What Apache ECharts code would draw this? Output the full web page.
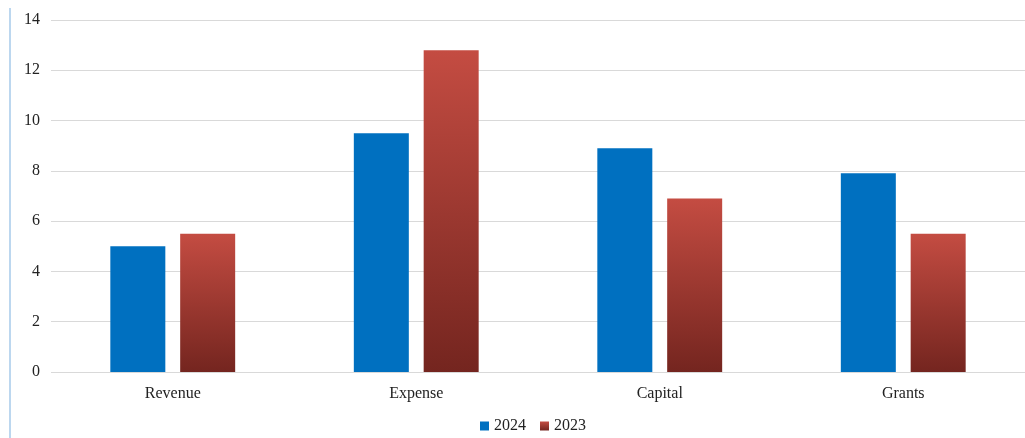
<!DOCTYPE html>
<html>
<head>
<meta charset="utf-8">
<script src="https://cdn.jsdelivr.net/npm/echarts@6/dist/echarts.min.js"></script>
<style>
  html, body { margin: 0; padding: 0; background: #fff; }
  #chart { width: 1025px; height: 438px; }
</style>
</head>
<body>
<div id="chart"></div>
<script>
// data
const categories = ['Revenue', 'Expense', 'Capital', 'Grants']
const values2024 = [5.0, 9.5, 8.9, 7.9]
const values2023 = [5.5, 12.8, 6.9, 5.5]

const font = 'Liberation Serif'
const chart = echarts.init(document.getElementById('chart'))

const option = {
  animation: false,
  textStyle: { fontFamily: font },
  graphic: [{
    type: 'rect',
    shape: { x: 9, y: 8, width: 2, height: 430 },
    style: { fill: '#bcd7ef' }
  }],
  legend: {
    top: 413,
    left: 475,
    icon: 'rect',
    itemWidth: 9,
    itemHeight: 9,
    itemGap: 14,
    textStyle: { fontFamily: font, fontSize: 16, color: '#222' },
    data: ['2024', '2023']
  },
  grid: {
    left: 51,
    top: 20,
    width: 978,
    bottom: 66
  },
  xAxis: {
    type: 'category',
    data: categories,
    axisLine: { show: false },
    axisTick: { show: false },
    axisLabel: { fontFamily: font, fontSize: 16, color: '#222', margin: 14 }
  },
  yAxis: {
    type: 'value',
    min: 0,
    max: 14,
    interval: 2,
    axisLine: { show: false },
    axisTick: { show: false },
    axisLabel: { fontFamily: font, fontSize: 16, color: '#222', margin: 11 },
    splitLine: { lineStyle: { color: '#d9d9d9', width: 1 } }
  },
  series: [{
    name: '2024',
    type: 'bar',
    data: values2024,
    barWidth: 55,
    barGap: '27%',
    itemStyle: { color: '#0070c0' }
  }, {
    name: '2023',
    type: 'bar',
    data: values2023,
    barWidth: 55,
    itemStyle: {
      color: new echarts.graphic.LinearGradient(0, 0, 0, 1, [
        { offset: 0, color: '#c44c42' },
        { offset: 1, color: '#74251f' }
      ])
    }
  }]
}
chart.setOption(option)
</script>
</body>
</html>
